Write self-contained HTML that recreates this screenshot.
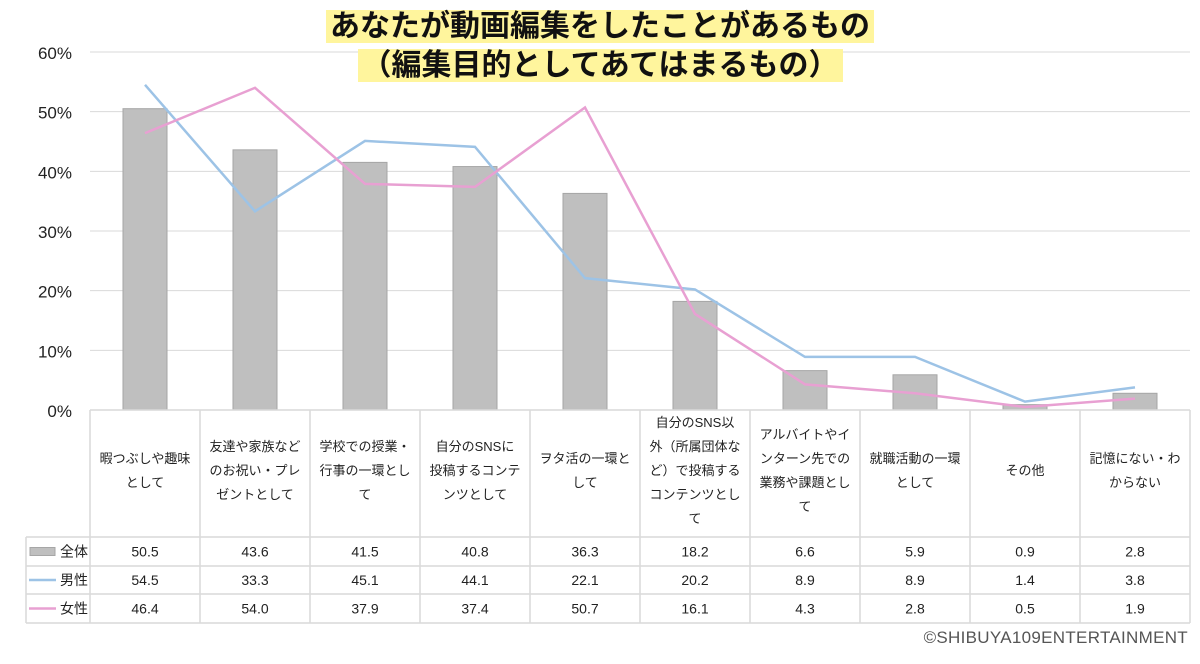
<!DOCTYPE html>
<html><head><meta charset="utf-8"><style>
body{margin:0;width:1200px;height:664px;background:#fff;overflow:hidden;font-family:"Liberation Sans","Noto Sans CJK JP",sans-serif;position:relative}
svg{position:absolute;left:0;top:0}
.title{position:absolute;left:0;width:1200px;text-align:center;font-weight:bold;font-size:30px;line-height:38px;color:#111}
.title span{background:#fff59d;padding:0 4px}
.copy{position:absolute;right:12px;top:628px;font-size:17px;color:#555;letter-spacing:0.3px}
</style></head><body>
<svg id="chart" width="1200" height="664"></svg>
<div class="title" style="top:8px"><span>あなたが動画編集をしたことがあるもの</span></div>
<div class="title" style="top:47px"><span>（編集目的としてあてはまるもの）</span></div>
<div class="copy">©SHIBUYA109ENTERTAINMENT</div>
<script>
const categories=[["暇つぶしや趣味","として"],["友達や家族など","のお祝い・プレ","ゼントとして"],["学校での授業・","行事の一環とし","て"],["自分のSNSに","投稿するコンテ","ンツとして"],["ヲタ活の一環と","して"],["自分のSNS以","外（所属団体な","ど）で投稿する","コンテンツとし","て"],["アルバイトやイ","ンターン先での","業務や課題とし","て"],["就職活動の一環","として"],["その他"],["記憶にない・わ","からない"]];
const seriesAll=[50.5,43.6,41.5,40.8,36.3,18.2,6.6,5.9,0.9,2.8];
const seriesMale=[54.5,33.3,45.1,44.1,22.1,20.2,8.9,8.9,1.4,3.8];
const seriesFemale=[46.4,54.0,37.9,37.4,50.7,16.1,4.3,2.8,0.5,1.9];
const yTicks=[0,10,20,30,40,50,60];
const seriesNames=["全体","男性","女性"];
const NS="http://www.w3.org/2000/svg";
const svg=document.getElementById('chart');
const X0=90,CW=110,Y0=410,YS=(410-52)/60;
const y=v=>Y0-v*YS, xc=i=>X0+CW*i+CW/2;
function el(t,a,p){const e=document.createElementNS(NS,t);for(const k in a)e.setAttribute(k,a[k]);(p||svg).appendChild(e);return e;}
yTicks.forEach(t=>{
  const l=el('line',{x1:X0,x2:1190,y1:y(t),y2:y(t),stroke:'#d9d9d9','stroke-width':1});
  
  
  const tx=el('text',{x:72,y:y(t)+7,'text-anchor':'end','font-size':17,fill:'#222'});tx.textContent=t+'%';
  
  
});
seriesAll.forEach((v,i)=>{
  const r=el('rect',{x:xc(i)-22,y:y(v),width:44,height:Y0-y(v),fill:'#bfbfbf',stroke:'#a6a6a6','stroke-width':1});
  
  
});
[[seriesMale,'#9dc3e6','male'],[seriesFemale,'#e8a0d2','female']].forEach(([s,c,n])=>{
  const p=el('polyline',{points:s.map((v,i)=>xc(i)+','+y(v)).join(' '),fill:'none',stroke:c,'stroke-width':2.5});
  
  
});
const rows=[537,566,594,623];
const g=el('g',{stroke:'#d9d9d9','stroke-width':1.5});
for(let i=0;i<=10;i++)el('line',{x1:X0+CW*i,x2:X0+CW*i,y1:Y0,y2:623},g);
el('line',{x1:26,x2:26,y1:537,y2:623},g);
el('line',{x1:X0,x2:1190,y1:Y0,y2:Y0},g);
rows.forEach(r=>el('line',{x1:26,x2:1190,y1:r,y2:r},g));
categories.forEach((lines,i)=>{
  const n=lines.length, start=470-(n-1)*12;
  lines.forEach((s,j)=>{
    const t=el('text',{x:xc(i),y:start+j*24+5,'text-anchor':'middle','font-size':13,fill:'#222'});t.textContent=s;
    
    
  });
});
[seriesAll,seriesMale,seriesFemale].forEach((s,r)=>{
  const cy=(rows[r]+rows[r+1])/2;
  s.forEach((v,i)=>{
    const t=el('text',{x:xc(i),y:cy+5,'text-anchor':'middle','font-size':14,fill:'#222'});t.textContent=v.toFixed(1);
    
    
  });
  if(r==0)el('rect',{x:30,y:cy-4,width:25,height:8,fill:'#bfbfbf',stroke:'#a6a6a6'});
  else el('line',{x1:29,x2:56,y1:cy,y2:cy,stroke:r==1?'#9dc3e6':'#e8a0d2','stroke-width':2.5});
  const t=el('text',{x:88,y:cy+5,'text-anchor':'end','font-size':14,fill:'#222'});t.textContent=seriesNames[r];
  
  
});
</script>
</body></html>
